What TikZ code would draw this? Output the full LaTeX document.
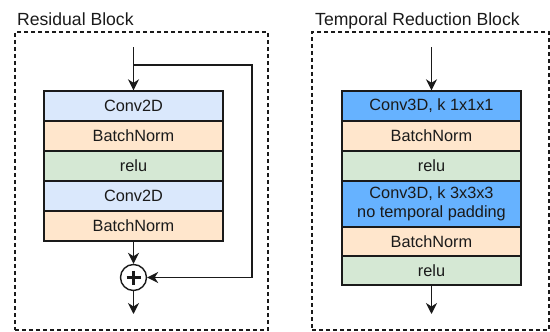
\documentclass[tikz,border=0pt]{standalone}
\usepackage{fontspec}
\setmainfont{Liberation Sans}
\usetikzlibrary{arrows.meta}
\definecolor{convlight}{HTML}{DAE8FC}
\definecolor{bnorm}{HTML}{FFE6CC}
\definecolor{relucol}{HTML}{D5E8D4}
\definecolor{convdark}{HTML}{66B2FF}
\definecolor{edge}{HTML}{1A1A1A}
\tikzset{
  cell/.style={draw=edge, line width=1.4pt, minimum width=179pt, inner sep=0pt,
    font=\fontsize{16.3pt}{19pt}\selectfont, align=center, text=edge},
  panel/.style={draw=edge, line width=1.1pt, dash pattern=on 4pt off 3pt},
  ttl/.style={anchor=base west, inner sep=0pt, font=\fontsize{17.6pt}{20pt}\selectfont, text=edge},
  flow/.style={draw=edge, line width=1.4pt, -{Stealth[length=11pt,width=11pt,inset=3.5pt]}},
}
\begin{document}
\begin{tikzpicture}[x=1pt,y=-1pt]
\useasboundingbox (0,0) rectangle (550,332);
% panels
\node[panel, minimum width=253pt, minimum height=298pt] (lp) at (141.5,181) {};
\node[panel, minimum width=237pt, minimum height=298pt] (rp) at (430.5,181) {};
\node[ttl] (lt) at (17,25) {Residual Block};
\node[ttl] (rt) at (315,25) {Temporal Reduction Block};
% left stack
\node[cell, fill=convlight, minimum height=30pt] (l1) at (133.5,106) {Conv2D};
\node[cell, fill=bnorm, minimum height=30pt] (l2) at (133.5,136) {BatchNorm};
\node[cell, fill=relucol, minimum height=30pt] (l3) at (133.5,166) {relu};
\node[cell, fill=convlight, minimum height=30pt] (l4) at (133.5,196) {Conv2D};
\node[cell, fill=bnorm, minimum height=30pt] (l5) at (133.5,226) {BatchNorm};
\node[circle, draw=edge, line width=1.4pt, minimum size=26pt, inner sep=0pt] (plus) at (133.5,277.5) {};
\draw[edge, line width=3.2pt] (plus.center) ++(-7,0) -- ++(14,0);
\draw[edge, line width=3.2pt] (plus.center) ++(0,-7) -- ++(0,14);
\coordinate (lin) at (133.5,47);
\coordinate (lbr) at (133.5,65);
\coordinate (lc1) at (252,65);
\coordinate (lc2) at (252,277.5);
\coordinate (lout) at (133.5,314);
\draw[flow] (lin) -- (l1.north);
\draw[flow] (lbr) -- (lc1) -- (lc2) -- (plus.east);
\draw[flow] (l5.south) -- (plus.north);
\draw[flow] (plus.south) -- (lout);
% right stack
\node[cell, fill=convdark, minimum height=30pt] (r1) at (431.5,106) {Conv3D, k 1x1x1};
\node[cell, fill=bnorm, minimum height=30pt] (r2) at (431.5,136) {BatchNorm};
\node[cell, fill=relucol, minimum height=30pt] (r3) at (431.5,166) {relu};
\node[cell, fill=convdark, minimum height=46pt] (r4) at (431.5,204) {Conv3D, k 3x3x3\\no temporal padding};
\node[cell, fill=bnorm, minimum height=29pt] (r5) at (431.5,241.5) {BatchNorm};
\node[cell, fill=relucol, minimum height=29pt] (r6) at (431.5,270.5) {relu};
\coordinate (rin) at (431.5,47);
\coordinate (rout) at (431.5,314);
\draw[flow] (rin) -- (r1.north);
\draw[flow] (r6.south) -- (rout);
\end{tikzpicture}
\end{document}
